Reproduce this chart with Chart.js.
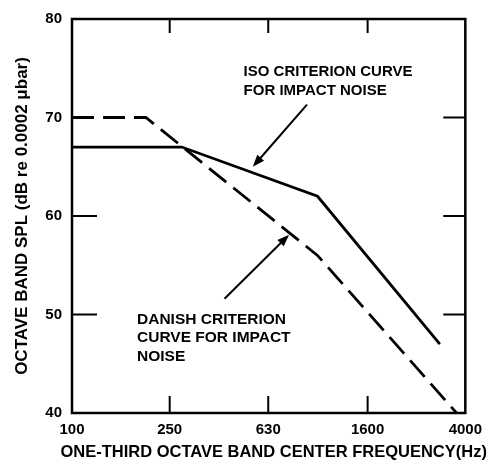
<!DOCTYPE html>
<html>
<head>
<meta charset="utf-8">
<script src="https://cdn.jsdelivr.net/npm/chart.js@4/dist/chart.umd.min.js"></script>
<style>
html,body{margin:0;padding:0;background:#fff;}
#wrap{width:490px;height:467px;position:relative;}
</style>
</head>
<body>
<div id="wrap"><canvas id="c" width="490" height="467"></canvas></div>
<script>
// ---- data ----
const isoFreq = [100, 280, 1000, 3150];
const isoLevel = [67, 67, 62, 47];
const danishFreq = [100, 200, 1000, 4000];
const danishLevel = [70, 70, 56, 39];
const xTickValues = [100, 250, 630, 1600, 4000];
const yTickValues = [40, 50, 60, 70, 80];
const leftMarks = [60, 50];
const rightMarks = [70, 60, 50];
const topMarks = [250, 630, 1600];
const bottomMarks = [250, 630, 1600];
const xTitle = 'ONE-THIRD OCTAVE BAND CENTER FREQUENCY(Hz)';
const yTitle = 'OCTAVE BAND SPL (dB re 0.0002 μbar)';
const isoNote = ["ISO CRITERION CURVE", "FOR IMPACT NOISE"];
const danishNote = ["DANISH CRITERION", "CURVE FOR IMPACT", "NOISE"];
// annotation anchors in data space [freq, dB]
const isoNoteAt = [500, 74.6];
const isoArrow = [[906, 71.3], [545, 65.0]];
const danishNoteAt = [184, 49.5];
const danishArrow = [[418, 51.6], [766, 58.1]];

const FONT = "'Liberation Sans', Arial, sans-serif";

const decor = {
  id: 'decor',
  afterDatasetsDraw(chart) {
    const ctx = chart.ctx, a = chart.chartArea;
    const xs = chart.scales.x, ys = chart.scales.y;
    ctx.save();
    ctx.strokeStyle = '#000';
    ctx.lineWidth = 2.5;
    ctx.strokeRect(a.left, a.top, a.right - a.left, a.bottom - a.top);
    ctx.lineWidth = 2;
    ctx.beginPath();
    leftMarks.forEach(v => { const y = ys.getPixelForValue(v); ctx.moveTo(a.left, y); ctx.lineTo(a.left + 25, y); });
    rightMarks.forEach(v => { const y = ys.getPixelForValue(v); ctx.moveTo(a.right, y); ctx.lineTo(a.right - 22, y); });
    topMarks.forEach(v => { const x = xs.getPixelForValue(v); ctx.moveTo(x, a.top); ctx.lineTo(x, a.top + 14); });
    bottomMarks.forEach(v => { const x = xs.getPixelForValue(v); ctx.moveTo(x, a.bottom); ctx.lineTo(x, a.bottom - 17); });
    ctx.stroke();

    ctx.fillStyle = '#000';
    ctx.textBaseline = 'middle';
    // x axis title (drawn here so it may be wider than the plot, as in the reference)
    ctx.font = "bold 16.5px " + FONT;
    ctx.textAlign = 'center';
    ctx.fillText(xTitle, (a.left + a.right) / 2 + 5, a.bottom + 39);

    ctx.font = "bold 15px " + FONT;
    ctx.textAlign = 'left';
    let x0 = xs.getPixelForValue(isoNoteAt[0]), y0 = ys.getPixelForValue(isoNoteAt[1]);
    isoNote.forEach((t, i) => ctx.fillText(t, x0, y0 + i * 19));
    ctx.font = "bold 15.5px " + FONT;
    x0 = xs.getPixelForValue(danishNoteAt[0]); y0 = ys.getPixelForValue(danishNoteAt[1]);
    danishNote.forEach((t, i) => ctx.fillText(t, x0, y0 + i * 18.5));

    function arrow(p) {
      const x1 = xs.getPixelForValue(p[0][0]), y1 = ys.getPixelForValue(p[0][1]);
      const x2 = xs.getPixelForValue(p[1][0]), y2 = ys.getPixelForValue(p[1][1]);
      const ang = Math.atan2(y2 - y1, x2 - x1);
      ctx.lineWidth = 2;
      ctx.beginPath(); ctx.moveTo(x1, y1);
      ctx.lineTo(x2 - 6 * Math.cos(ang), y2 - 6 * Math.sin(ang)); ctx.stroke();
      ctx.beginPath();
      ctx.moveTo(x2, y2);
      ctx.lineTo(x2 - 12 * Math.cos(ang) + 4.5 * Math.sin(ang), y2 - 12 * Math.sin(ang) - 4.5 * Math.cos(ang));
      ctx.lineTo(x2 - 12 * Math.cos(ang) - 4.5 * Math.sin(ang), y2 - 12 * Math.sin(ang) + 4.5 * Math.cos(ang));
      ctx.closePath(); ctx.fill();
    }
    arrow(isoArrow);
    arrow(danishArrow);
    ctx.restore();
  }
};

new Chart(document.getElementById('c'), {
  type: 'line',
  data: {
    datasets: [
      {
        label: 'ISO',
        data: isoFreq.map((f, i) => ({ x: f, y: isoLevel[i] })),
        borderColor: '#000', borderWidth: 2.8, pointRadius: 0, tension: 0, fill: false
      },
      {
        label: 'Danish',
        data: danishFreq.map((f, i) => ({ x: f, y: danishLevel[i] })),
        borderColor: '#000', borderWidth: 2.8, borderDash: [22, 9], pointRadius: 0, tension: 0, fill: false
      }
    ]
  },
  options: {
    responsive: false,
    animation: false,
    devicePixelRatio: 1,
    layout: { padding: { top: 15, right: 24, left: 0, bottom: 0 } },
    plugins: { legend: { display: false }, tooltip: { enabled: false } },
    scales: {
      x: {
        type: 'logarithmic',
        min: 100, max: 4000,
        afterBuildTicks: s => { s.ticks = xTickValues.map(v => ({ value: v })); },
        afterFit: s => { s.height = 54; },
        grid: { display: false, drawTicks: false },
        border: { display: false },
        ticks: {
          color: '#000', padding: 8, maxRotation: 0, autoSkip: false,
          font: { family: FONT, size: 15, weight: 'bold' },
          callback: v => String(v)
        },
        title: { display: false }
      },
      y: {
        min: 40, max: 80,
        afterBuildTicks: s => { s.ticks = yTickValues.map(v => ({ value: v })); },
        afterFit: s => { s.width = 72; },
        grid: { display: false, drawTicks: false },
        border: { display: false },
        ticks: {
          color: '#000', padding: 10,
          font: { family: FONT, size: 15, weight: 'bold' }
        },
        title: {
          display: true, text: yTitle,
          color: '#000', font: { family: FONT, size: 17, weight: 'bold' },
          padding: { top: 12, bottom: 0 }
        }
      }
    }
  },
  plugins: [decor]
});
</script>
</body>
</html>
